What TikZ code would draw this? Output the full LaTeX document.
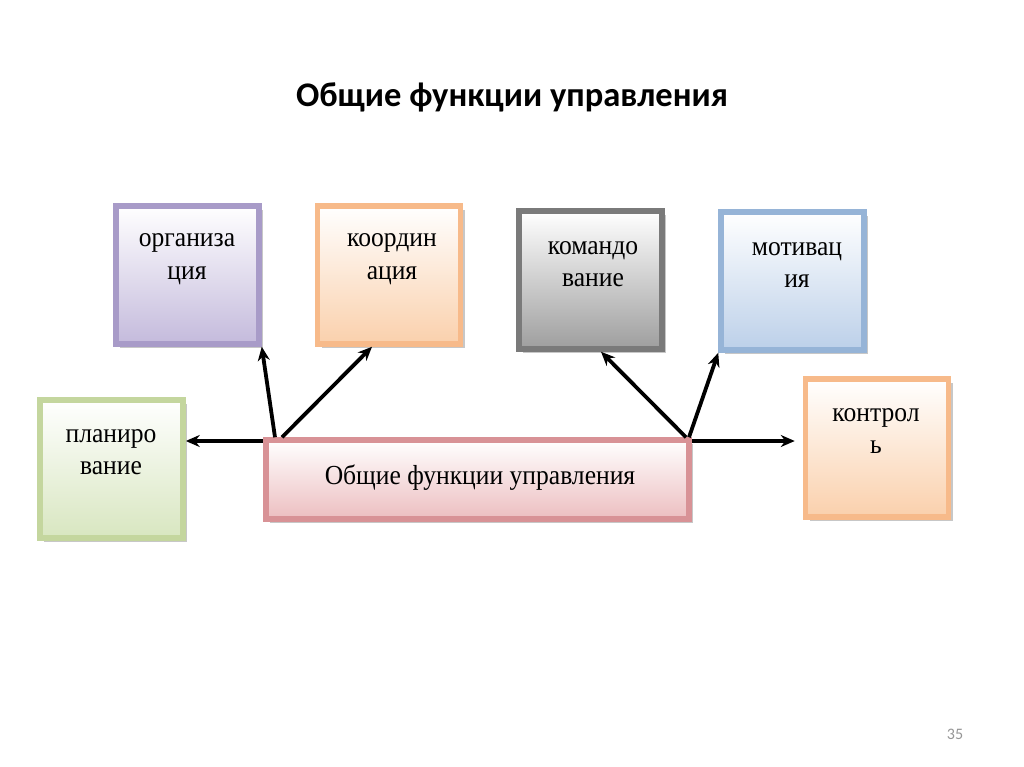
\documentclass[tikz,border=0pt]{standalone}
\usepackage{fontspec}
\setmainfont{Liberation Serif}
\newfontfamily\boxfont[FakeStretch=0.93]{Liberation Serif}
\newfontfamily\titlefont{Carlito}
\usetikzlibrary{arrows.meta,shadows,calc}
\pgfdeclarelayer{back}
\pgfdeclarelayer{bg}
\pgfsetlayers{back,bg,main}
\definecolor{purpleB}{RGB}{168,155,200}
\definecolor{purpleF}{RGB}{196,186,220}
\definecolor{orangeB}{RGB}{247,186,138}
\definecolor{orangeF}{RGB}{250,208,172}
\definecolor{grayB}{RGB}{122,122,122}
\definecolor{grayF}{RGB}{158,158,158}
\definecolor{blueB}{RGB}{150,180,215}
\definecolor{blueF}{RGB}{188,208,233}
\definecolor{greenB}{RGB}{196,214,158}
\definecolor{greenF}{RGB}{216,230,192}
\definecolor{redB}{RGB}{216,146,150}
\definecolor{redF}{RGB}{236,190,192}
\definecolor{numgray}{RGB}{150,150,150}
\tikzset{
  fbox/.style 2 args={rectangle, draw=#1, line width=5.5pt, top color=white, bottom color=#2,
    inner sep=0pt, minimum width=143pt, minimum height=138pt,
    drop shadow={shadow xshift=4pt, shadow yshift=-4pt, fill=black!40, opacity=.55}},
  ftext/.style={font=\boxfont\fontsize{27.5}{32.5}\selectfont, align=center, text=black, inner sep=0pt},
  arr/.style={line width=3.8pt, -{Stealth[length=14pt,width=12pt]}, black},
}
\begin{document}
\begin{tikzpicture}[x=1pt,y=-1pt]
\useasboundingbox (0,0) rectangle (1024,767);
\begin{pgfonlayer}{back}
\fill[white] (0,0) rectangle (1024,767);
\end{pgfonlayer}

\node[font=\titlefont\bfseries\fontsize{34.5}{40}\selectfont] (title) at (512,97) {Общие функции управления};

\node[fbox={purpleB}{purpleF}] (org) at (187.5,275) {};
\node[fbox={orangeB}{orangeF}] (koord) at (389,275) {};
\node[fbox={grayB}{grayF}] (kom) at (590.5,280) {};
\node[fbox={blueB}{blueF}] (mot) at (792.5,281) {};
\node[fbox={greenB}{greenF}] (plan) at (111.5,469) {};
\node[fbox={orangeB}{orangeF}] (kontr) at (877,448) {};
\node[fbox={redB}{redF}, minimum width=423pt, minimum height=79pt] (cen) at (477.5,479.5) {};

\node[ftext] (orgt) at (187,259) {организа\\ция};
\node[ftext] (koordt) at (392,259) {координ\\ация};
\node[ftext] (komt) at (593,264) {командо\\вание};
\node[ftext] (mott) at (797,265) {мотивац\\ия};
\node[ftext] (plant) at (111,452) {планиро\\вание};
\node[ftext] (kontrt) at (876,431) {контрол\\ь};
\node[ftext] (cent) at (480,478) {Общие функции управления};

\node[font=\titlefont\fontsize{16}{18}\selectfont, text=numgray] (num) at (955,734) {35};

\begin{pgfonlayer}{bg}
\coordinate (hl) at (275,441);
\coordinate (hr) at (688,441);
\draw[arr] (hl) -- (plan.east |- hl);
\draw[arr, shorten >=8pt] (hr) -- (kontr.west |- hr);
\end{pgfonlayer}
\draw[arr] (cen.north -| 275,0) -- (org.south east);
\draw[arr] (cen.north -| 282,0) -- (koord.south -| 372,0);
\draw[arr] (cen.north -| 686,0) -- (kom.south -| 601,0);
\draw[arr] (cen.north -| 689,0) -- (mot.south west);
\end{tikzpicture}
\end{document}
